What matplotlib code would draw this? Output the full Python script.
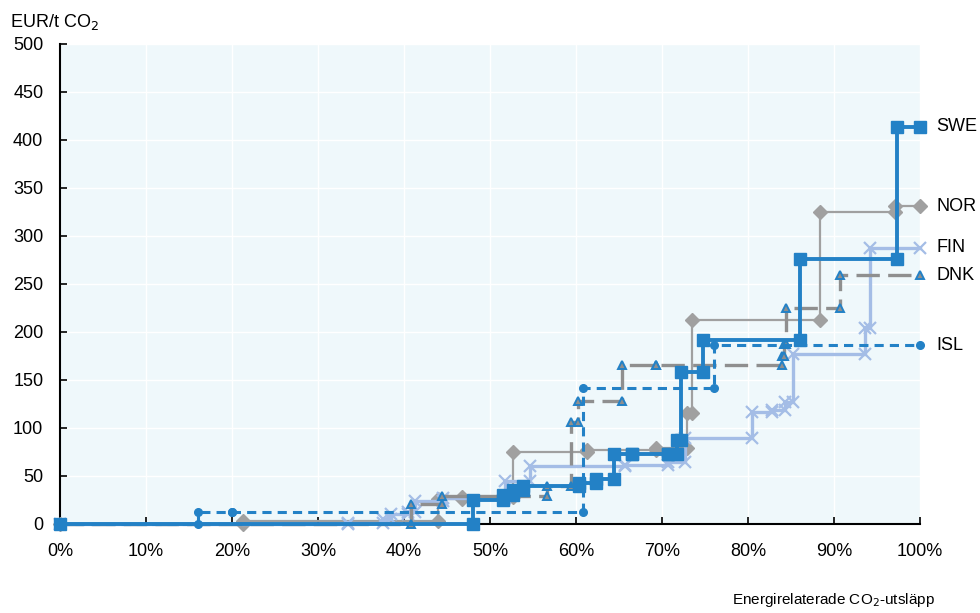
import numpy as np
import matplotlib
matplotlib.use("Agg")
import matplotlib.pyplot as plt

plt.rcParams['font.family'] = ['Liberation Sans', 'DejaVu Sans']

# cumulative share of emissions (%) at segment edges, price (EUR/t CO2) per segment
swe_edges = [0, 48, 51.5, 52.7, 53.8, 60.3, 62.3, 64.4, 66.5, 70.7, 71.8, 72.2, 74.8, 86.0, 97.3, 100]
swe_price = [0, 25, 30, 35, 40, 43, 47, 73, 73, 73, 88, 158, 192, 276, 414]

nor_edges = [0, 21.3, 44.0, 46.8, 52.7, 61.3, 69.3, 72.9, 73.5, 88.4, 97.1, 100]
nor_price = [0, 3, 26, 28, 75, 77, 79, 116, 212, 325, 331]

fin_edges = [0, 33.5, 37.5, 38.5, 40.5, 41.3, 44.5, 51.7, 54.7, 65.7, 70.7, 72.7, 80.5, 82.8, 84.3, 85.2, 93.6, 94.2, 100]
fin_price = [0, 1, 5, 10, 12, 24, 27, 45, 60, 61, 65, 90, 117, 119, 127, 177, 204, 288]

dnk_edges = [0, 40.8, 44.4, 56.6, 59.4, 60.2, 65.3, 69.3, 84.0, 84.2, 84.4, 90.7, 100]
dnk_price = [0, 21, 29, 40, 106, 128, 166, 166, 175, 187, 225, 259]

isl_edges = [0, 16.0, 20.0, 60.8, 76.0, 100]
isl_price = [0, 13, 13, 142, 186]

blue = '#2381c6'
grey = '#a0a0a0'
light = '#a4bde6'


def steps(edges, price):
    xs, ys = [], []
    for i, p in enumerate(price):
        xs += [edges[i], edges[i + 1]]
        ys += [p, p]
    return np.array(xs), np.array(ys)


fig = plt.figure(figsize=(9.8, 6.13), dpi=100)
ax = fig.add_axes([60 / 980, 89 / 613, 860 / 980, 480 / 613])
ax.set_facecolor('#eff8fb')

x, y = steps(nor_edges, nor_price)
ax.plot(x, y, color=grey, lw=1.6, marker='D', ms=7, mfc=grey, mec=grey, clip_on=False, zorder=3)

x, y = steps(fin_edges, fin_price)
ax.plot(x, y, color=light, lw=2.4, marker='x', ms=8, mew=1.6, mec=light, clip_on=False, zorder=4)

x, y = steps(dnk_edges, dnk_price)
ax.plot(x, y, color='#8f8f8f', lw=2.4, dashes=(7, 2.5), marker='^', ms=5.5, mfc='#8f8f8f',
        mec=blue, mew=1.4, clip_on=False, zorder=5)

x, y = steps(isl_edges, isl_price)
ax.plot(x, y, color=blue, lw=2.2, dashes=(3, 2), marker='o', ms=5.5, mfc=blue, mec=blue,
        clip_on=False, zorder=6)

x, y = steps(swe_edges, swe_price)
ax.plot(x, y, color=blue, lw=2.8, marker='s', ms=8, mfc=blue, mec=blue, clip_on=False, zorder=7)

labels = [('SWE', swe_price[-1]), ('NOR', nor_price[-1]), ('FIN', fin_price[-1]),
          ('DNK', dnk_price[-1]), ('ISL', isl_price[-1])]
for name, val in labels:
    ax.annotate(name, xy=(100, val), xytext=(12, 0), textcoords='offset points',
                va='center', ha='left', fontsize=13, annotation_clip=False)

ax.set_xlim(0, 100)
ax.set_ylim(0, 500)
ax.set_xticks(np.arange(0, 101, 10))
ax.set_xticklabels([f'{v}%' for v in range(0, 101, 10)])
ax.set_yticks(np.arange(0, 501, 50))
ax.grid(True, color='white', lw=1)
ax.set_axisbelow(True)
for s in ['top', 'right']:
    ax.spines[s].set_visible(False)
for s in ['left', 'bottom']:
    ax.spines[s].set_color('black')
    ax.spines[s].set_linewidth(1.5)
ax.tick_params(direction='in', length=5, width=1.2, labelsize=13)
ax.tick_params(axis='x', pad=14)
ax.tick_params(axis='y', pad=12)

fig.text(10 / 980, 1 - 22 / 613, 'EUR/t CO$_2$', fontsize=13, va='center', ha='left')
fig.text(935 / 980, 1 - 600 / 613, 'Energirelaterade CO$_2$-utsläpp', fontsize=11,
         va='center', ha='right')

fig.savefig('out.png', dpi=100)
